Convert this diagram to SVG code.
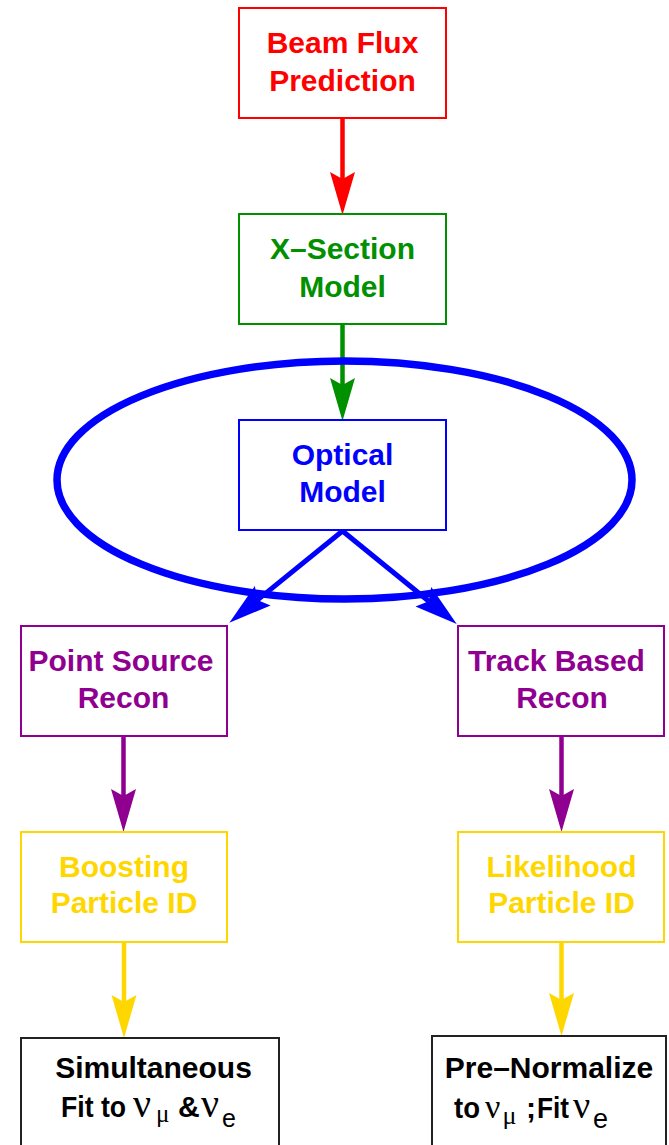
<svg xmlns="http://www.w3.org/2000/svg" width="669" height="1145" viewBox="0 0 669 1145">
  <style>
    .box { fill: #ffffff; stroke-width: 2; }
    .lbl { font-family: "Liberation Sans", Arial, sans-serif; font-weight: bold; font-size: 30px; text-anchor: middle; }
    .sans { font-family: "Liberation Sans", Arial, sans-serif; }
    .serif { font-family: "Liberation Serif", "Times New Roman", serif; font-weight: normal; }
    .shaft { fill: none; stroke-width: 4.5; stroke-linecap: butt; }
    .red { stroke: #ff0000; } .redt { fill: #ff0000; }
    .green { stroke: #009000; } .greent { fill: #009000; }
    .blue { stroke: #0000ff; } .bluet { fill: #0000ff; }
    .purple { stroke: #900090; } .purplet { fill: #900090; }
    .gold { stroke: #ffd700; } .goldt { fill: #ffd700; }
    .black { stroke: #222222; } .blackt { fill: #000000; }
  </style>
  <defs>
    <marker id="head-red" markerUnits="userSpaceOnUse" markerWidth="50" markerHeight="30" refX="7" refY="0" orient="auto" overflow="visible">
      <path d="M0,-12.5 L43,0 L0,12.5 L7,0 Z" fill="#ff0000"/>
    </marker>
    <marker id="head-green" markerUnits="userSpaceOnUse" markerWidth="50" markerHeight="30" refX="7" refY="0" orient="auto" overflow="visible">
      <path d="M0,-12.5 L43,0 L0,12.5 L7,0 Z" fill="#009000"/>
    </marker>
    <marker id="head-blue" markerUnits="userSpaceOnUse" markerWidth="50" markerHeight="30" refX="7" refY="0" orient="auto" overflow="visible">
      <path d="M0,-12.5 L43,0 L0,12.5 L7,0 Z" fill="#0000ff"/>
    </marker>
    <marker id="head-purple" markerUnits="userSpaceOnUse" markerWidth="50" markerHeight="30" refX="7" refY="0" orient="auto" overflow="visible">
      <path d="M0,-12.5 L43,0 L0,12.5 L7,0 Z" fill="#900090"/>
    </marker>
    <marker id="head-gold" markerUnits="userSpaceOnUse" markerWidth="50" markerHeight="30" refX="7" refY="0" orient="auto" overflow="visible">
      <path d="M0,-12.5 L43,0 L0,12.5 L7,0 Z" fill="#ffd700"/>
    </marker>
  </defs>

  <rect x="0" y="0" width="669" height="1145" fill="#ffffff"/>

  <!-- connectors -->
  <g id="connectors">
    <path class="shaft red" d="M342.5,118 L342.5,179" marker-end="url(#head-red)"/>
    <path class="shaft green" d="M342.5,324 L342.5,385" marker-end="url(#head-green)"/>
    <path class="shaft blue" style="stroke-width:5" d="M342.5,531 L257.3,600.1" marker-end="url(#head-blue)"/>
    <path class="shaft blue" style="stroke-width:5" d="M342.5,531 L428.8,601.2" marker-end="url(#head-blue)"/>
    <path class="shaft purple" d="M123.5,736 L123.5,796" marker-end="url(#head-purple)"/>
    <path class="shaft purple" d="M561.5,736 L561.5,796" marker-end="url(#head-purple)"/>
    <path class="shaft gold" d="M124,942 L124,1002" marker-end="url(#head-gold)"/>
    <path class="shaft gold" d="M561.5,942 L561.5,1000" marker-end="url(#head-gold)"/>
  </g>

  <!-- nodes -->
  <g id="beam-flux">
    <rect class="box red" x="239" y="8" width="207" height="110"/>
    <text class="lbl redt" x="342.5" y="53">Beam Flux</text>
    <text class="lbl redt" x="342.5" y="91">Prediction</text>
  </g>

  <g id="xsection">
    <rect class="box green" x="239" y="214" width="207" height="110"/>
    <text class="lbl greent" x="342.5" y="259">X–Section</text>
    <text class="lbl greent" x="342.5" y="297">Model</text>
  </g>

  <g id="optical">
    <rect class="box blue" x="239" y="420" width="207" height="110"/>
    <text class="lbl bluet" x="342.5" y="465">Optical</text>
    <text class="lbl bluet" x="342.5" y="502">Model</text>
  </g>

  <g id="optical-scope">
    <ellipse cx="344.5" cy="480" rx="287.5" ry="119" fill="none" stroke="#0000ff" stroke-width="7.5"/>
  </g>

  <g id="point-source">
    <rect class="box purple" x="21" y="626" width="206" height="110"/>
    <text class="lbl purplet" x="121" y="671">Point Source</text>
    <text class="lbl purplet" x="123.5" y="708">Recon</text>
  </g>

  <g id="track-based">
    <rect class="box purple" x="458" y="626" width="206" height="110"/>
    <text class="lbl purplet" x="556.5" y="671">Track Based</text>
    <text class="lbl purplet" x="562" y="708">Recon</text>
  </g>

  <g id="boosting">
    <rect class="box gold" x="21" y="832" width="206" height="110"/>
    <text class="lbl goldt" x="124" y="877">Boosting</text>
    <text class="lbl goldt" x="124" y="913">Particle ID</text>
  </g>

  <g id="likelihood">
    <rect class="box gold" x="458" y="832" width="206" height="110"/>
    <text class="lbl goldt" x="561.5" y="877">Likelihood</text>
    <text class="lbl goldt" x="561.5" y="913">Particle ID</text>
  </g>

  <g id="simultaneous-fit">
    <rect class="box black" x="21" y="1038" width="258" height="120"/>
    <text class="lbl blackt" x="153.5" y="1078">Simultaneous</text>
    <text class="blackt" y="1117" font-size="30"><tspan class="sans" font-weight="bold" x="61" textLength="65" lengthAdjust="spacingAndGlyphs">Fit to</tspan><tspan class="serif" font-size="40" x="133">ν</tspan><tspan class="serif" font-size="25" x="156" y="1122">μ</tspan><tspan class="sans" font-weight="bold" x="178" y="1117">&amp;</tspan><tspan class="serif" font-size="40" x="201">ν</tspan><tspan class="sans" font-size="25" x="222" y="1127">e</tspan></text>
  </g>

  <g id="pre-normalize">
    <rect class="box black" x="432" y="1036" width="234" height="120"/>
    <text class="lbl blackt" x="549" y="1078">Pre–Normalize</text>
    <text class="blackt" y="1118" font-size="30"><tspan class="sans" font-weight="bold" x="454" textLength="26" lengthAdjust="spacingAndGlyphs">to</tspan><tspan class="serif" font-size="34" x="485">ν</tspan><tspan class="serif" font-size="26" x="502.5" y="1124">μ</tspan><tspan class="sans" font-weight="bold" x="526" y="1118">;</tspan><tspan class="sans" font-weight="bold" x="537" textLength="32" lengthAdjust="spacingAndGlyphs">Fit</tspan><tspan class="serif" font-size="38" x="573">ν</tspan><tspan class="sans" font-size="27" x="593" y="1128">e</tspan></text>
  </g>
</svg>
